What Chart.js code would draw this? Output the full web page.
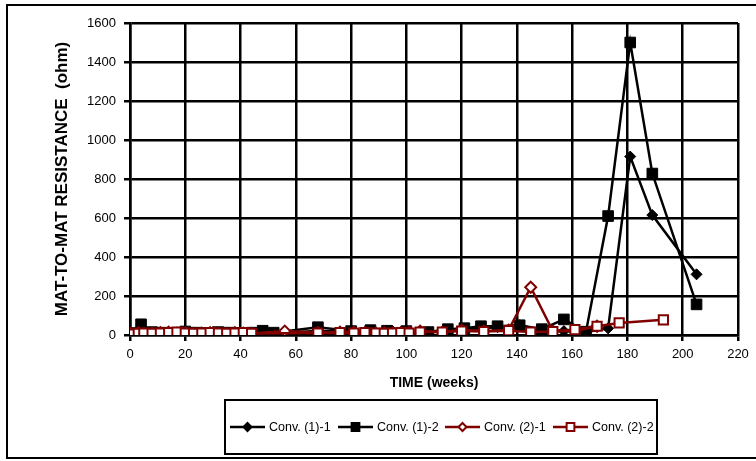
<!DOCTYPE html>
<html>
<head>
<meta charset="utf-8">
<script src="https://cdn.jsdelivr.net/npm/chart.js@4/dist/chart.umd.min.js"></script>
<style>
  html, body { margin: 0; padding: 0; background: #fff; }
  #wrap { width: 756px; height: 461px; }
</style>
</head>
<body>
<div id="wrap"><canvas id="chart" width="756" height="461"></canvas></div>
<script>
// weeks and resistance (ohm)
const weeks11 = [0, 3, 6, 9, 12, 15, 18, 21, 24, 27, 30, 33, 36, 39, 42, 45, 52, 68, 80, 88, 95, 100, 108, 115, 121, 127, 133, 141, 149, 157, 165, 173, 181, 189, 205];
const ohm11   = [5, 8, 10, 8, 12, 10, 8, 10, 12, 10, 15, 10, 12, 10, 8, 10, 10, 20, 18, 22, 20, 18, 15, 25, 30, 35, 40, 50, 25, 20, 15, 34, 915, 615, 311];

const weeks12 = [0, 4, 8, 12, 16, 20, 24, 28, 32, 36, 40, 44, 48, 52, 68, 80, 87, 93, 100, 108, 115, 121, 127, 133, 141, 149, 157, 165, 173, 181, 189, 205];
const ohm12   = [10, 55, 15, 12, 10, 18, 12, 10, 15, 12, 10, 12, 22, 12, 40, 20, 25, 22, 20, 15, 30, 35, 45, 45, 50, 30, 80, 17, 610, 1500, 828, 157];

const weeks21 = [0, 3, 5, 8, 11, 14, 17, 20, 23, 26, 29, 32, 35, 38, 41, 44, 56, 68, 76, 81, 85, 89, 92, 95, 98, 101, 105, 113, 120, 128, 137, 145, 153, 161, 169];
const ohm21   = [10, 12, 8, 10, 12, 15, 10, 12, 8, 10, 12, 10, 8, 12, 10, 8, 20, 12, 15, 15, 12, 10, 12, 10, 12, 15, 20, 15, 25, 20, 25, 245, 20, 20, 45];

const weeks22 = [0, 3, 5, 8, 11, 14, 17, 20, 23, 26, 29, 32, 35, 38, 41, 44, 68, 76, 81, 85, 89, 92, 95, 98, 101, 105, 113, 120, 128, 137, 145, 153, 161, 169, 177, 193];
const ohm22   = [5, 8, 10, 8, 10, 12, 15, 10, 8, 10, 12, 10, 8, 10, 12, 8, 10, 12, 10, 12, 10, 8, 10, 12, 10, 15, 15, 20, 18, 22, 15, 18, 28, 45, 62, 78];

const seriesNames = ['Conv. (1)-1', 'Conv. (1)-2', 'Conv. (2)-1', 'Conv. (2)-2'];
const xTicks = [0, 220, 20];   // min, max, step
const yTicks = [0, 1600, 200];

const BLACK = '#000000';
const RED = '#800000';
const FONT = "'Liberation Sans', Arial, sans-serif";

function pts(xs, ys) {
    return xs.map((x, i) => ({ x: x, y: ys[i] }));
}

// frame round the whole picture + Excel-style legend box
const excelFrame = {
    id: 'excelFrame',
    afterDraw(chart) {
        const ctx = chart.ctx;
        ctx.save();
        ctx.strokeStyle = '#000';
        ctx.lineWidth = 2;
        ctx.strokeRect(7, 5, 780, 453);

        // legend
        ctx.lineWidth = 2;
        ctx.strokeRect(225, 400, 432, 54);
        const ly = 427;
        const starts = [230, 338, 445, 553];
        ctx.font = '12.5px ' + FONT;
        ctx.textBaseline = 'middle';
        chart.data.datasets.forEach((ds, i) => {
            const x0 = starts[i];
            ctx.strokeStyle = ds.borderColor;
            ctx.lineWidth = 2.5;
            ctx.beginPath();
            ctx.moveTo(x0, ly);
            ctx.lineTo(x0 + 35, ly);
            ctx.stroke();
            ctx.fillStyle = ds.pointBackgroundColor;
            ctx.strokeStyle = ds.borderColor;
            ctx.lineWidth = 2;
            Chart.helpers.drawPoint(ctx, {
                pointStyle: ds.pointStyle,
                radius: ds.pointStyle === 'rect' ? 5.5 : 4,
                rotation: 0,
                borderWidth: 2
            }, x0 + 17.5, ly);
            ctx.fillStyle = '#000';
            ctx.fillText(ds.label, x0 + 39, ly + 1);
        });
        ctx.restore();
    }
};

const ctx = document.getElementById('chart').getContext('2d');
new Chart(ctx, {
    type: 'scatter',
    data: {
        datasets: [
            {
                label: seriesNames[0],
                data: pts(weeks11, ohm11),
                showLine: true,
                borderColor: BLACK,
                backgroundColor: BLACK,
                pointBackgroundColor: BLACK,
                pointStyle: 'rectRot',
                pointRadius: 5.5,
                borderWidth: 2.5,
                pointBorderWidth: 1,
                order: 2
            },
            {
                label: seriesNames[1],
                data: pts(weeks12, ohm12),
                showLine: true,
                borderColor: BLACK,
                backgroundColor: BLACK,
                pointBackgroundColor: BLACK,
                pointStyle: 'rect',
                pointRadius: 7.5,
                borderWidth: 2.5,
                pointBorderWidth: 1,
                order: 3
            },
            {
                label: seriesNames[2],
                data: pts(weeks21, ohm21),
                showLine: true,
                borderColor: RED,
                backgroundColor: '#ffffff',
                pointBackgroundColor: '#ffffff',
                pointBorderColor: RED,
                pointStyle: 'rectRot',
                pointRadius: 5.5,
                borderWidth: 2.5,
                pointBorderWidth: 2,
                order: 1
            },
            {
                label: seriesNames[3],
                data: pts(weeks22, ohm22),
                showLine: true,
                borderColor: RED,
                backgroundColor: '#ffffff',
                pointBackgroundColor: '#ffffff',
                pointBorderColor: RED,
                pointStyle: 'rect',
                pointRadius: 6.5,
                borderWidth: 2.5,
                pointBorderWidth: 2,
                order: 0
            }
        ]
    },
    options: {
        responsive: false,
        animation: false,
        layout: {
            padding: { left: 0, top: 23, right: 18, bottom: 66 }
        },
        plugins: {
            legend: { display: false },
            tooltip: { enabled: false }
        },
        scales: {
            x: {
                type: 'linear',
                min: xTicks[0],
                max: xTicks[1],
                ticks: {
                    stepSize: xTicks[2], color: '#000', font: { family: FONT, size: 13 }, padding: 6, maxRotation: 0,
                    callback: (v) => String(v)
                },
                grid: { color: '#000', lineWidth: 2.5, tickLength: 6, drawTicks: true },
                border: { display: true, color: '#000', width: 2.5 },
                title: {
                    display: true,
                    text: 'TIME (weeks)',
                    color: '#000',
                    font: { family: FONT, size: 14, weight: 'bold' },
                    padding: { top: 0, bottom: 3 }
                },
                afterFit(scale) { scale.height = 60; }
            },
            y: {
                type: 'linear',
                min: yTicks[0],
                max: yTicks[1],
                ticks: {
                    stepSize: yTicks[2], color: '#000', font: { family: FONT, size: 13 }, padding: 8,
                    callback: (v) => String(v)
                },
                grid: { color: '#000', lineWidth: 2.5, tickLength: 6, drawTicks: true },
                border: { display: true, color: '#000', width: 2.5 },
                title: {
                    display: true,
                    text: 'MAT-TO-MAT RESISTANCE  (ohm)',
                    color: '#000',
                    font: { family: FONT, size: 17, weight: 'bold' },
                    padding: { top: 52, bottom: 0 }
                },
                afterFit(scale) { scale.width = 130; }
            }
        }
    },
    plugins: [excelFrame]
});
</script>
</body>
</html>
